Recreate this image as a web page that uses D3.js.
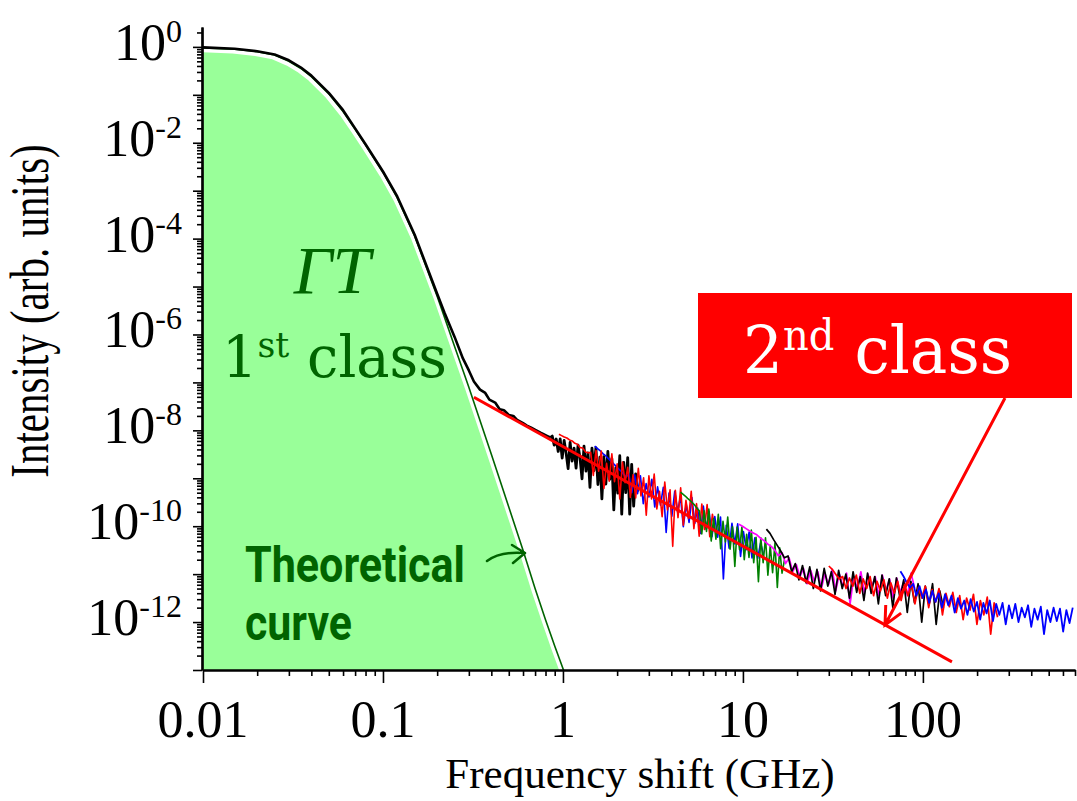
<!DOCTYPE html>
<html>
<head>
<meta charset="utf-8">
<script src="https://cdn.jsdelivr.net/npm/d3@7"></script>
<style>
  body { margin: 0; background: #fff; }
  text { font-family: "Liberation Serif", "Times New Roman", serif; }
</style>
</head>
<body>
<script>
var width = 1077;
var height = 801;

// theoretical curve: frequency (GHz) and log10 intensity
var theoryFreq = [0.01, 0.015, 0.02, 0.025, 0.03, 0.035, 0.04, 0.05, 0.06, 0.07, 0.08, 0.1, 0.12, 0.15, 0.2, 0.25, 0.3, 0.4, 0.5, 0.6, 0.7, 0.8, 0.9, 1.03];
var theoryLog = [-0.02, -0.05, -0.1, -0.17, -0.3, -0.45, -0.62, -0.98, -1.35, -1.72, -2.05, -2.62, -3.15, -3.95, -5.2, -6.25, -7.1, -8.5, -9.6, -10.5, -11.3, -11.95, -12.5, -13.1];

// measured spectrum, smooth low frequency part
var blackFreq = [0.01, 0.015, 0.02, 0.025, 0.03, 0.035, 0.04, 0.05, 0.06, 0.07, 0.08, 0.1, 0.12, 0.15, 0.2, 0.22, 0.25, 0.278, 0.3, 0.32, 0.346, 0.37, 0.39, 0.42, 0.445, 0.47, 0.5, 0.53, 0.556, 0.6, 0.63, 0.67, 0.71, 0.75, 0.78, 0.82, 0.85];
var blackLog = [-0.01, -0.04, -0.09, -0.16, -0.28, -0.43, -0.6, -0.96, -1.32, -1.7, -2.03, -2.6, -3.12, -3.92, -5.15, -5.55, -6.05, -6.5, -6.75, -6.98, -7.15, -7.22, -7.36, -7.42, -7.56, -7.58, -7.68, -7.7, -7.78, -7.85, -7.9, -7.95, -8.0, -8.05, -8.08, -8.12, -8.15];

// noisy spectra: frequency range (GHz) and log10 intensity samples
var blackNoisyRange = [0.85, 2.6];
var blackNoisyLog = [-8.15, -8.12, -8.31, -8.18, -8.44, -8.18, -8.58, -8.21, -8.48, -8.8, -8.25, -8.64, -8.37, -8.79, -8.31, -8.58, -9.01, -8.33, -8.85, -8.47, -9.19, -8.37, -8.84, -8.36, -9.13, -8.56, -9.43, -8.55, -9.12, -8.44, -9.02, -8.59, -9.66, -8.78, -9.31, -8.53, -9.75, -8.67, -9.3, -8.57, -9.75, -8.71, -9.58, -8.91, -9.28];

var redARange = [0.95, 7.0];
var redALog = [-8.08, -8.11, -8.14, -8.16, -8.2, -8.22, -8.27, -8.29, -8.36, -8.37, -8.45, -8.47, -8.46, -8.94, -8.42, -8.85, -8.43, -9.21, -8.69, -9.06, -8.49, -9.07, -8.7, -9.43, -8.66, -9.09, -8.77, -9.4, -8.93, -9.41, -8.79, -9.37, -8.99, -9.77, -8.95, -9.43, -8.91, -9.64, -9.27, -9.8, -9.08, -9.66, -9.24, -10.42, -9.25, -9.82, -9.2, -9.98, -9.46, -9.84, -9.27, -10.05, -9.53, -10.21, -9.54, -10.07, -9.55, -10.22, -9.75, -10.08];

var blueARange = [1.5, 13];
var blueALog = [-8.33, -8.38, -8.43, -8.49, -8.54, -8.6, -8.66, -8.72, -8.78, -8.84, -8.91, -8.97, -8.92, -9.3, -8.93, -9.32, -8.95, -9.53, -9.11, -9.39, -9.02, -9.6, -9.18, -9.56, -9.19, -10.13, -9.31, -9.79, -9.27, -9.7, -9.38, -10.01, -9.54, -9.92, -9.4, -9.94, -9.62, -10.15, -9.58, -10.06, -9.69, -10.22, -9.8, -10.23, -9.81, -11.1, -9.98, -10.46, -9.94, -10.37, -9.95, -10.63, -10.11, -10.49, -10.12, -10.66, -10.24, -10.67, -10.35, -10.58];

var greenRange = [4.5, 17];
var greenLog = [-9.29, -9.33, -9.37, -9.42, -9.46, -9.51, -9.56, -9.63, -9.68, -10.16, -9.68, -10.11, -9.64, -10.31, -9.84, -10.27, -9.75, -10.47, -9.9, -10.33, -9.81, -10.48, -10.01, -10.84, -10.02, -10.49, -10.02, -10.7, -10.17, -10.65, -10.08, -10.76, -10.23, -11.16, -10.24, -10.76, -10.24, -11.02, -10.4, -10.97, -10.35, -11.28, -10.45, -10.98, -10.71];

var magentaRange = [9.5, 90];
var magentaLog = [-9.96, -10.0, -10.05, -10.1, -10.14, -10.18, -10.25, -10.3, -10.37, -10.42, -10.5, -10.62, -10.55, -10.78, -10.66, -10.95, -10.8, -11.05, -10.88, -11.2, -10.92, -11.15, -10.95, -11.3, -10.98, -11.22, -10.9, -11.35, -11.0, -11.25, -10.98, -11.62, -11.05, -11.3, -10.95, -11.4, -11.0, -11.28, -11.05, -11.45, -11.02, -11.35, -11.1, -11.5, -11.08, -11.38, -11.15, -11.45, -10.98, -11.3];

var blackBRange = [13.5, 130];
var blackBLog = [-10.06, -10.15, -10.28, -10.4, -10.52, -10.66, -10.62, -10.95, -10.78, -11.12, -10.82, -11.18, -10.85, -11.3, -10.9, -11.35, -10.88, -11.25, -10.95, -11.42, -10.92, -11.3, -11.0, -11.5, -10.95, -11.38, -11.05, -11.55, -10.98, -11.4, -11.05, -11.62, -11.02, -11.45, -11.1, -11.7, -11.08, -11.5, -11.12, -11.8, -11.15, -11.6, -11.2, -12.0, -11.25, -11.65, -11.2, -12.05, -11.35, -11.7];

var redBRange = [30, 260];
var redBLog = [-10.83, -10.9, -11.0, -11.1, -11.05, -11.3, -11.08, -11.25, -11.02, -11.4, -11.1, -11.3, -11.05, -11.45, -11.15, -11.35, -11.12, -11.5, -11.18, -11.4, -11.15, -11.55, -11.22, -11.45, -11.2, -11.62, -11.28, -11.5, -11.25, -11.7, -11.32, -11.58, -11.3, -11.85, -11.4, -11.68, -11.38, -11.8, -11.45, -11.95, -11.5, -11.75, -11.42, -12.05, -11.55, -11.85, -11.48, -12.25, -11.6, -11.9];

var blueBRange = [75, 680];
var blueBLog = [-10.94, -11.05, -11.18, -11.28, -11.2, -11.45, -11.25, -11.5, -11.32, -11.6, -11.35, -11.58, -11.4, -11.7, -11.42, -11.65, -11.45, -11.8, -11.5, -11.72, -11.55, -11.85, -11.52, -11.78, -11.58, -11.95, -11.6, -11.82, -11.55, -11.98, -11.62, -11.85, -11.6, -12.05, -11.65, -11.92, -11.62, -12.0, -11.7, -11.9, -11.65, -12.1, -11.72, -11.95, -11.68, -12.25, -11.75, -12.0, -11.7, -11.98, -11.72, -12.2, -11.75, -12.02, -11.7];

// power-law fit of the 2nd class (endpoints: GHz, log10 intensity)
var fitFreq = [0.32, 145];
var fitLog = [-7.31, -12.83];

// tick labels
var xTickValues = [0.01, 0.1, 1, 10, 100];
var xTickLabels = ['0.01', '0.1', '1', '10', '100'];
var yLabelExponents = [0, -2, -4, -6, -8, -10, -12];

// scales
var x = d3.scaleLog().domain([0.01, 700]).range([203, 1075]);
var y = d3.scaleLog().domain([1e-13, 2.6]).range([670, 27]);

var svg = d3.select('body')
  .append('svg')
  .attr('width', width)
  .attr('height', height);

svg.append('clipPath').attr('id', 'plot')
  .append('rect')
  .attr('x', x.range()[0])
  .attr('y', y.range()[1])
  .attr('width', x.range()[1] - x.range()[0])
  .attr('height', y.range()[0] - y.range()[1]);

function pairs(freq, logs) {
  return freq.map(function(f, i) { return [f, Math.pow(10, logs[i])]; });
}
function noisy(range, logs) {
  var l0 = Math.log10(range[0]), l1 = Math.log10(range[1]);
  return logs.map(function(v, i) {
    return [Math.pow(10, l0 + (l1 - l0) * i / (logs.length - 1)), Math.pow(10, v)];
  });
}

var line = d3.line()
  .x(function(d) { return x(d[0]); })
  .y(function(d) { return y(d[1]); });

var area = d3.area()
  .x(function(d) { return x(d[0]); })
  .y0(y(1e-13))
  .y1(function(d) { return y(d[1]); });

var plot = svg.append('g').attr('clip-path', 'url(#plot)');

// filled theoretical region
var theory = pairs(theoryFreq, theoryLog);
plot.append('path')
  .datum(theory)
  .attr('d', area)
  .attr('transform', 'translate(-2,3)')
  .attr('fill', '#99ff99')
  .attr('stroke', '#fff')
  .attr('stroke-width', 2.5);

plot.append('path')
  .datum(theory)
  .attr('d', line)
  .attr('fill', 'none')
  .attr('stroke', '#006400')
  .attr('stroke-width', 1.6);

// measured spectra
var series = [
  { data: pairs(blackFreq, blackLog), color: '#000', w: 2.6 },
  { data: noisy(blackNoisyRange, blackNoisyLog), color: '#000', w: 2.8 },
  { data: noisy(blueARange, blueALog), color: '#0000ff', w: 1.6 },
  { data: noisy(redARange, redALog), color: '#ff0000', w: 1.6 },
  { data: noisy(greenRange, greenLog), color: '#008000', w: 1.6 },
  { data: noisy(magentaRange, magentaLog), color: '#ff00ff', w: 1.7 },
  { data: noisy(blackBRange, blackBLog), color: '#000', w: 1.7 },
  { data: noisy(redBRange, redBLog), color: '#ff0000', w: 1.7 },
  { data: noisy(blueBRange, blueBLog), color: '#0000ff', w: 1.8 }
];

plot.selectAll('path.spec')
  .data(series)
  .enter()
  .append('path')
  .attr('class', 'spec')
  .attr('d', function(d) { return line(d.data); })
  .attr('fill', 'none')
  .attr('stroke', function(d) { return d.color; })
  .attr('stroke-width', function(d) { return d.w; })
  .attr('stroke-linejoin', 'round');

// fit line
plot.append('path')
  .datum(pairs(fitFreq, fitLog))
  .attr('d', line)
  .attr('stroke', '#ff0000')
  .attr('stroke-width', 3);

// axes
var xMinor = [], yMinor = [], yMajor = [];
d3.range(-2, 3).forEach(function(e) {
  d3.range(2, 10).forEach(function(k) {
    var v = k * Math.pow(10, e);
    if (v <= 700) xMinor.push(v);
  });
});
d3.range(-13, 1).forEach(function(e) {
  yMajor.push(Math.pow(10, e));
  d3.range(2, 10).forEach(function(k) {
    var v = k * Math.pow(10, e);
    if (v <= 2.6) yMinor.push(v);
  });
});

var xAxisG = svg.append('g').attr('transform', 'translate(0,' + y.range()[0] + ')');
xAxisG.append('g').call(d3.axisBottom(x).tickValues(xMinor).tickSize(6).tickSizeOuter(0).tickFormat(''));
xAxisG.append('g').call(d3.axisBottom(x).tickValues(xTickValues).tickSize(13).tickSizeOuter(0).tickFormat(''));

var yAxisG = svg.append('g').attr('transform', 'translate(' + (x.range()[0] - 1) + ',0)');
yAxisG.append('g').call(d3.axisLeft(y).tickValues(yMinor).tickSize(5).tickSizeOuter(0).tickFormat(''));
yAxisG.append('g').call(d3.axisLeft(y).tickValues(yMajor).tickSize(9).tickSizeOuter(0).tickFormat(''));

svg.selectAll('.domain').attr('stroke', '#000').attr('stroke-width', 2.2);
svg.selectAll('.tick line').attr('stroke', '#000').attr('stroke-width', 1.6);

// tick labels
svg.selectAll('text.xlab')
  .data(xTickValues)
  .enter()
  .append('text')
  .attr('class', 'xlab')
  .attr('x', function(d) { return x(d); })
  .attr('y', 737)
  .attr('text-anchor', 'middle')
  .attr('font-size', 52)
  .text(function(d, i) { return xTickLabels[i]; });

var ylab = svg.selectAll('text.ylab')
  .data(yLabelExponents)
  .enter()
  .append('text')
  .attr('class', 'ylab')
  .attr('x', 182)
  .attr('y', function(d) { return y(Math.pow(10, d)) + 13; })
  .attr('text-anchor', 'end')
  .attr('font-size', 52);
ylab.append('tspan').text('10');
ylab.append('tspan')
  .attr('dy', -18)
  .attr('font-size', 32)
  .text(function(d) { return d === 0 ? '0' : '-' + (-d); });

// axis titles
svg.append('text')
  .attr('x', 640)
  .attr('y', 788)
  .attr('text-anchor', 'middle')
  .attr('font-size', 43)
  .text('Frequency shift (GHz)');

svg.append('text')
  .attr('transform', 'translate(48,311) rotate(-90) scale(1,1.35)')
  .attr('text-anchor', 'middle')
  .attr('font-size', 41)
  .text('Intensity (arb. units)');

// 1st class labels
svg.append('text')
  .attr('x', 332)
  .attr('y', 293)
  .attr('text-anchor', 'middle')
  .attr('font-size', 68)
  .attr('font-style', 'italic')
  .attr('fill', '#006400')
  .text('\u0393T');

var first = svg.append('text')
  .attr('x', 222)
  .attr('y', 377)
  .attr('font-size', 58)
  .attr('fill', '#006400')
  .style('font-family', '"DejaVu Serif", serif')
  .attr('textLength', 225)
  .attr('lengthAdjust', 'spacingAndGlyphs');
first.append('tspan').text('1');
first.append('tspan').attr('dy', -20).attr('font-size', 36).text('st');
first.append('tspan').attr('dy', 20).text(' class');

svg.append('text')
  .attr('x', 245)
  .attr('y', 582)
  .attr('font-size', 50)
  .attr('font-weight', 'bold')
  .attr('fill', '#006400')
  .style('font-family', 'Roboto, "Liberation Sans", sans-serif')
  .attr('textLength', 220)
  .attr('lengthAdjust', 'spacingAndGlyphs')
  .text('Theoretical');

svg.append('text')
  .attr('x', 245)
  .attr('y', 640)
  .attr('font-size', 50)
  .attr('font-weight', 'bold')
  .attr('fill', '#006400')
  .style('font-family', 'Roboto, "Liberation Sans", sans-serif')
  .attr('textLength', 107)
  .attr('lengthAdjust', 'spacingAndGlyphs')
  .text('curve');

// small green arrow pointing at the theoretical curve
svg.append('path')
  .attr('d', 'M487,561 Q500,551 525,553 M512,545 L525,553 L513,563')
  .attr('fill', 'none')
  .attr('stroke', '#006400')
  .attr('stroke-width', 2.5)
  .attr('stroke-linecap', 'round')
  .attr('stroke-linejoin', 'round');

// 2nd class box and arrow
svg.append('rect')
  .attr('x', 698)
  .attr('y', 293)
  .attr('width', 374)
  .attr('height', 105)
  .attr('fill', '#ff0000');

var second = svg.append('text')
  .attr('x', 743)
  .attr('y', 373)
  .attr('font-size', 66)
  .attr('fill', '#fff')
  .style('font-family', '"DejaVu Serif", serif')
  .attr('textLength', 269)
  .attr('lengthAdjust', 'spacingAndGlyphs');
second.append('tspan').text('2');
second.append('tspan').attr('dy', -23).attr('font-size', 42).text('nd');
second.append('tspan').attr('dy', 23).text(' class');

var tail = [1005, 398], tip = [885, 625];
var ang = Math.atan2(tail[1] - tip[1], tail[0] - tip[0]);
var head = 20, spread = 0.45;
svg.append('path')
  .attr('d', 'M' + tail + 'L' + tip +
    'M' + [tip[0] + head * Math.cos(ang + spread), tip[1] + head * Math.sin(ang + spread)] +
    'L' + tip +
    'L' + [tip[0] + head * Math.cos(ang - spread), tip[1] + head * Math.sin(ang - spread)])
  .attr('fill', 'none')
  .attr('stroke', '#ff0000')
  .attr('stroke-width', 3);
</script>
</body>
</html>
